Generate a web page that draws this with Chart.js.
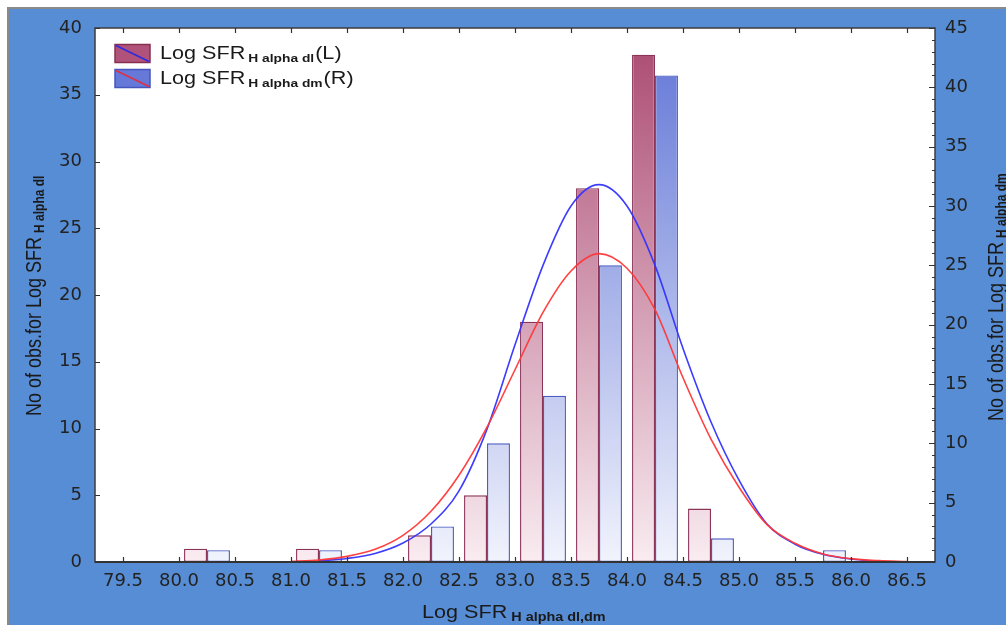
<!DOCTYPE html>
<html><head><meta charset="utf-8">
<script src="https://cdn.jsdelivr.net/npm/chart.js@4.4.0/dist/chart.umd.min.js"></script>
<style>html,body{margin:0;padding:0;background:#fff;overflow:hidden}canvas{display:block}</style>
</head><body>
<canvas id="c" width="1006" height="625"></canvas>
<script>
// ---- data ----
const binCenters = [80.25, 81.25, 82.25, 82.75, 83.25, 83.75, 84.25, 84.75, 85.75];
const countsDl   = [1, 1, 2, 5, 18, 28, 38, 4, 0];     // left axis
const countsDm   = [1, 1, 3, 10, 14, 25, 41, 2, 1];    // right axis
const xTicks = [79.5, 80.0, 80.5, 81.0, 81.5, 82.0, 82.5, 83.0, 83.5, 84.0, 84.5, 85.0, 85.5, 86.0, 86.5];
const yLeftTicks  = [0, 5, 10, 15, 20, 25, 30, 35, 40];
const yRightTicks = [0, 5, 10, 15, 20, 25, 30, 35, 40, 45];
const fitDlX = [81.0, 81.25, 81.5, 81.75, 82.0, 82.25, 82.5, 82.75, 83.0, 83.25, 83.5, 83.75, 84.0, 84.25, 84.5, 84.75, 85.0, 85.25, 85.5, 85.75, 86.0, 86.25, 86.5];
const fitDlY = [0.05, 0.15, 0.42, 0.95, 2.0, 3.8, 6.5, 10.1, 14.4, 18.7, 21.8, 23.1, 22.0, 18.9, 13.8, 9.2, 5.6, 2.8, 1.4, 0.6, 0.25, 0.1, 0.03];
const fitDmX = [81.25, 81.5, 81.75, 82.0, 82.25, 82.5, 82.75, 83.0, 83.25, 83.5, 83.75, 84.0, 84.25, 84.5, 84.75, 85.0, 85.25, 85.5, 85.75, 86.0, 86.25];
const fitDmY = [0.1, 0.3, 0.72, 1.6, 3.2, 6.0, 11.2, 18.3, 25.0, 30.0, 31.8, 30.0, 25.0, 18.0, 11.8, 6.9, 3.2, 1.5, 0.65, 0.25, 0.05];

// ---- build datasets ----
const barsDl = binCenters.map((x, i) => ({x, y: countsDl[i] > 0 ? countsDl[i] : null}));
const barsDm = binCenters.map((x, i) => ({x, y: countsDm[i] > 0 ? countsDm[i] : null}));
const lineDl = fitDlX.map((x, i) => ({x, y: fitDlY[i]}));
const lineDm = fitDmX.map((x, i) => ({x, y: fitDmY[i]}));

function vGrad(top, bottom) {
  return (c) => {
    const ca = c.chart.chartArea;
    if (!ca) return top;
    const g = c.chart.ctx.createLinearGradient(0, ca.top, 0, ca.bottom);
    g.addColorStop(0, top); g.addColorStop(1, bottom);
    return g;
  };
}

const TITLE_FONT = '"Liberation Sans", Arial, sans-serif';
const SX = 1.2;

function txt(ctx, s, x, y, font, sx) {
  ctx.save(); ctx.translate(x, y); ctx.scale(sx, 1);
  ctx.font = font; ctx.fillText(s, 0, 0);
  const w = ctx.measureText(s).width * sx;
  ctx.restore(); return w;
}

const decor = {
  id: 'decor',
  beforeDraw(chart) {
    const ctx = chart.ctx, ca = chart.chartArea;
    ctx.save();
    ctx.fillStyle = '#ffffff'; ctx.fillRect(0, 0, chart.width, chart.height);
    ctx.fillStyle = '#578dd4'; ctx.fillRect(8, 8, chart.width - 8, chart.height - 8);
    ctx.strokeStyle = '#8a8a8a'; ctx.lineWidth = 2;
    ctx.beginPath(); ctx.moveTo(8, chart.height); ctx.lineTo(8, 8); ctx.lineTo(chart.width, 8); ctx.stroke();
    ctx.fillStyle = '#ffffff'; ctx.fillRect(ca.left, ca.top, ca.right - ca.left, ca.bottom - ca.top);
    ctx.restore();
  },
  afterDatasetsDraw(chart) {
    const ctx = chart.ctx, ca = chart.chartArea;
    const xs = chart.scales.x, yl = chart.scales.y, yr = chart.scales.y1;
    ctx.save();
    ctx.strokeStyle = '#3c3c3c'; ctx.lineWidth = 1.5;
    ctx.strokeRect(ca.left, ca.top, ca.right - ca.left, ca.bottom - ca.top);
    ctx.lineWidth = 2; ctx.strokeStyle = '#333';
    ctx.beginPath(); ctx.moveTo(ca.left, ca.bottom); ctx.lineTo(ca.right, ca.bottom); ctx.stroke();
    ctx.lineWidth = 1.2; ctx.strokeStyle = '#333';
    ctx.beginPath();
    xTicks.forEach(v => {
      const p = Math.round(xs.getPixelForValue(v)) + 0.5;
      ctx.moveTo(p, ca.bottom); ctx.lineTo(p, ca.bottom - 5);
      ctx.moveTo(p, ca.top); ctx.lineTo(p, ca.top + 5);
    });
    yLeftTicks.forEach(v => {
      const p = Math.round(yl.getPixelForValue(v)) + 0.5;
      ctx.moveTo(ca.left, p); ctx.lineTo(ca.left + 5, p);
    });
    for (let v = yRightTicks[0]; v <= yRightTicks[yRightTicks.length - 1]; v++) {
      const p = Math.round(yr.getPixelForValue(v)) + 0.5;
      const len = (v % 5 === 0) ? 6 : 3;
      ctx.moveTo(ca.right, p); ctx.lineTo(ca.right - len, p);
    }
    ctx.stroke();
    ctx.restore();
  },
  afterDraw(chart) {
    const ctx = chart.ctx;
    ctx.save();
    ctx.fillStyle = '#1a1a1a';
    ctx.textBaseline = 'alphabetic';
    // legend
    const rows = [
      {y: 44.5, fill: '#b0527a', border: '#85304f', diag: '#2a2ae6', sub: 'H alpha dl', tail: '(L)'},
      {y: 69.5, fill: '#6678d8', border: '#4656bf', diag: '#e0303f', sub: 'H alpha dm', tail: '(R)'}
    ];
    rows.forEach(r => {
      ctx.fillStyle = r.fill; ctx.fillRect(115, r.y, 35, 18);
      ctx.strokeStyle = r.border; ctx.lineWidth = 1.5; ctx.strokeRect(115, r.y, 35, 18);
      ctx.strokeStyle = r.diag; ctx.lineWidth = 1.5;
      ctx.beginPath(); ctx.moveTo(116, r.y + 1); ctx.lineTo(149, r.y + 17); ctx.stroke();
      ctx.fillStyle = '#1a1a1a';
      let x = 160;
      const base = r.y + 14;
      x += txt(ctx, 'Log SFR', x, base, '18px ' + TITLE_FONT, SX) + 3;
      x += txt(ctx, r.sub, x, base + 3, 'bold 11.5px ' + TITLE_FONT, SX) + 1;
      txt(ctx, r.tail, x, base, '18px ' + TITLE_FONT, SX);
    });
    // x title
    let xx = 422;
    xx += txt(ctx, 'Log SFR', xx, 618, '18px ' + TITLE_FONT, SX) + 4;
    txt(ctx, 'H alpha dl,dm', xx, 621, 'bold 12px ' + TITLE_FONT, SX);
    // y titles (rotated)
    function vtitle(bx, by, sub) {
      ctx.save();
      ctx.translate(bx, by); ctx.rotate(-Math.PI / 2); ctx.scale(1, 1.2);
      ctx.font = '18px ' + TITLE_FONT;
      ctx.fillText('No of obs.for Log SFR', 0, 0);
      const w = ctx.measureText('No of obs.for Log SFR').width;
      ctx.font = 'bold 12px ' + TITLE_FONT;
      ctx.fillText(sub, w + 4, 2.5);
      ctx.restore();
    }
    vtitle(41, 416, 'H alpha dl');
    vtitle(1003, 421, 'H alpha dm');
    ctx.restore();
  }
};

new Chart(document.getElementById('c'), {
  type: 'bar',
  data: {
    datasets: [
      {type: 'line', data: lineDl, yAxisID: 'y', borderColor: 'rgba(255,55,55,0.95)', borderWidth: 1.6,
       pointRadius: 0, fill: false, cubicInterpolationMode: 'monotone', order: 0},
      {type: 'line', data: lineDm, yAxisID: 'y1', borderColor: 'rgba(50,50,255,0.95)', borderWidth: 1.6,
       pointRadius: 0, fill: false, cubicInterpolationMode: 'monotone', order: 0},
      {type: 'bar', data: barsDl, yAxisID: 'y', backgroundColor: vGrad('rgb(170,72,112)', 'rgb(249,236,241)'),
       borderColor: '#8a3458', borderWidth: 1.4, borderSkipped: false, categoryPercentage: 0.82, barPercentage: 1.0, order: 1},
      {type: 'bar', data: barsDm, yAxisID: 'y1', backgroundColor: vGrad('rgb(96,116,214)', 'rgb(241,243,252)'),
       borderColor: '#4a5bc2', borderWidth: 1.4, borderSkipped: false, categoryPercentage: 0.82, barPercentage: 1.0, order: 1}
    ]
  },
  options: {
    responsive: false, animation: false, devicePixelRatio: 1,
    layout: {padding: {left: 0, right: 0, top: 28, bottom: 0}},
    plugins: {legend: {display: false}, tooltip: {enabled: false}},
    scales: {
      x: {
        type: 'linear', min: 79.25, max: 86.75, offset: false,
        grid: {display: false, drawTicks: false}, border: {display: false},
        afterBuildTicks: s => { s.ticks = xTicks.map(v => ({value: v})); },
        afterFit: s => { s.height = 63; },
        ticks: {autoSkip: false, maxRotation: 0, padding: 9, color: '#222',
                font: {family: 'DejaVu Sans', size: 18}, callback: v => Number(v).toFixed(1)}
      },
      y: {
        position: 'left', min: 0, max: 40,
        grid: {display: false, drawTicks: false}, border: {display: false},
        afterBuildTicks: s => { s.ticks = yLeftTicks.map(v => ({value: v})); },
        afterFit: s => { s.width = 95; },
        ticks: {padding: 13, color: '#222', font: {family: 'DejaVu Sans', size: 18}}
      },
      y1: {
        position: 'right', min: 0, max: 45,
        grid: {display: false, drawTicks: false}, border: {display: false},
        afterBuildTicks: s => { s.ticks = yRightTicks.map(v => ({value: v})); },
        afterFit: s => { s.width = 71; },
        ticks: {padding: 10, color: '#222', font: {family: 'DejaVu Sans', size: 18}}
      }
    }
  },
  plugins: [decor]
});
</script>
</body></html>
